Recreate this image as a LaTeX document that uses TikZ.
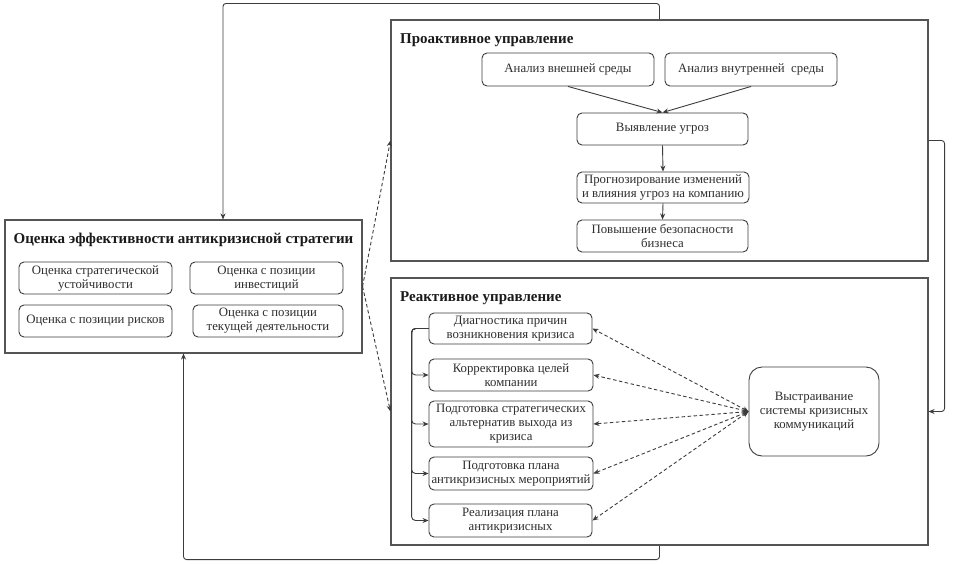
\documentclass[tikz,border=0pt]{standalone}
\usepackage{fontspec}
\setmainfont{Liberation Serif}
\usetikzlibrary{arrows.meta}
\definecolor{linec}{HTML}{3C3C3C}
\definecolor{framec}{HTML}{555555}
\definecolor{txtc}{HTML}{2E2E2E}
\definecolor{titc}{HTML}{1A1A1A}
\newcommand{\boxfont}{\fontsize{12.8}{14}\selectfont}
\newcommand{\titfont}{\fontsize{15}{17}\selectfont\bfseries}
\tikzset{
  frame/.style={draw=framec, line width=1.1pt, fill=none, inner sep=0pt},
  item/.style={draw=linec, line width=0.9pt, rounded corners=5pt, align=center,
    inner sep=0.5pt, font=\boxfont, text=txtc},
  ttl/.style={font=\titfont, text=titc, inner sep=0pt},
  conn/.style={draw=linec, line width=0.9pt, -{Stealth[length=6pt,width=5pt]}},
  dconn/.style={draw=linec, line width=0.9pt, dash pattern=on 3.5pt off 2.5pt,
    {Stealth[length=6pt,width=5pt]}-{Stealth[length=6pt,width=5pt]}},
  dsingle/.style={draw=linec, line width=0.9pt, dash pattern=on 3.5pt off 2.5pt,
    -{Stealth[length=6pt,width=5pt]}}
}
\begin{document}
\begin{tikzpicture}[x=1pt,y=-1pt]
\fill[white] (0,0) rectangle (960,563);
\useasboundingbox (0,0) rectangle (960,563);

% containers
\node[frame, minimum width=357pt, minimum height=133pt] (eval) at (183.5,286.5) {};
\node[frame, minimum width=537pt, minimum height=241pt] (proact) at (659.5,140.5) {};
\node[frame, minimum width=537pt, minimum height=267pt] (react) at (659.5,411.5) {};

% titles
\node[ttl, anchor=base] (evalt) at (183.5,243) {Оценка эффективности антикризисной стратегии};
\node[ttl, anchor=base west] (proactt) at (400,43) {Проактивное управление};
\node[ttl, anchor=base west] (reactt) at (400,301) {Реактивное управление};

% evaluation items
\node[item, minimum width=153pt, minimum height=32pt] (e1) at (95.5,278) {Оценка стратегической\\устойчивости};
\node[item, minimum width=153pt, minimum height=32pt] (e2) at (266.5,278) {Оценка с позиции\\инвестиций};
\node[item, minimum width=153pt, minimum height=32pt] (e3) at (95.5,321) {Оценка с позиции рисков};
\node[item, minimum width=150pt, minimum height=32pt] (e4) at (268,321) {Оценка с позиции\\текущей деятельности};

% proactive items
\node[item, minimum width=172pt, minimum height=33pt] (p1) at (568,69.5) {Анализ внешней среды};
\node[item, minimum width=172pt, minimum height=33pt] (p2) at (751,69.5) {Анализ внутренней\ \ среды};
\node[item, minimum width=171pt, minimum height=32pt] (p3) at (662.5,129) {Выявление угроз};
\node[item, minimum width=172pt, minimum height=31pt] (p4) at (663,187.5) {Прогнозирование изменений\\и влияния угроз на компанию};
\node[item, minimum width=171pt, minimum height=32pt] (p5) at (662.5,236) {Повышение безопасности\\бизнеса};

\draw[conn] (p1.south) -- (p3.north);
\draw[conn] (p2.south) -- (p3.north);
\draw[conn] (p3.south) -- (p4.north);
\draw[conn] (p4.south) -- (p5.north);

% reactive items
\node[item, minimum width=163pt, minimum height=31pt] (r1) at (510.5,328.5) {Диагностика причин\\возникновения кризиса};
\node[item, minimum width=164pt, minimum height=32pt] (r2) at (511,375) {Корректировка целей\\компании};
\node[item, minimum width=164pt, minimum height=46pt] (r3) at (511,424) {Подготовка стратегических\\альтернатив выхода из\\кризиса};
\node[item, minimum width=164pt, minimum height=33pt] (r4) at (511,473.5) {Подготовка плана\\антикризисных мероприятий};
\node[item, minimum width=163pt, minimum height=33pt] (r5) at (510.5,520.5) {Реализация плана\\антикризисных};
\node[item, rounded corners=13pt, minimum width=130pt, minimum height=89pt] (comm) at (814,411.5) {Выстраивание\\системы кризисных\\коммуникаций};

\foreach \k in {r2,r3,r4,r5}{
  \draw[conn, rounded corners=4pt] (r1.west) -- ++(-17,0) |- (\k.west);
}
\foreach \k in {r1,r2,r3,r4,r5}{
  \draw[dconn] (comm.west) -- (\k.east);
}

% links between blocks
\draw[dsingle] (eval.east) -- (proact.west);
\draw[dsingle] (eval.east) -- (react.west);
\draw[conn, rounded corners=3pt] (proact.north) -- ++(0,-16) -| ([xshift=39.5pt]eval.north);
\draw[conn, rounded corners=3pt] (react.south) -- ++(0,14) -| (eval.south);
\draw[conn, rounded corners=3pt] (proact.east) -- ++(16,0) |- (react.east);
\end{tikzpicture}
\end{document}
